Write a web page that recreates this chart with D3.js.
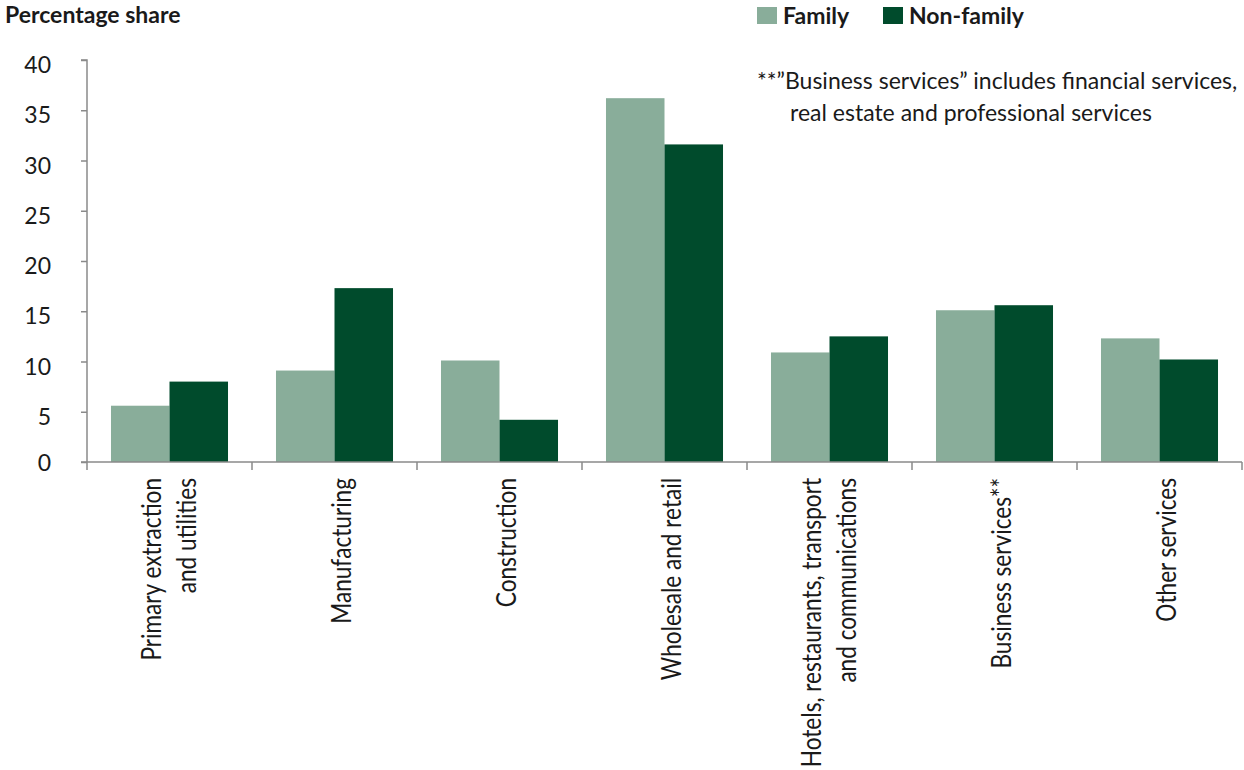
<!DOCTYPE html>
<html>
<head>
<meta charset="utf-8">
<script src="https://cdn.jsdelivr.net/npm/d3@7"></script>
<style>
  html, body { margin: 0; padding: 0; background: #ffffff; }
  svg { display: block; font-family: Lato, "Open Sans", sans-serif; }
</style>
</head>
<body>
<svg id="chart" width="1244" height="770"></svg>
<script>
// Sector labels (each entry is the list of lines drawn under the axis)
const categories = [
  ["Primary extraction", "and utilities"],
  ["Manufacturing"],
  ["Construction"],
  ["Wholesale and retail"],
  ["Hotels, restaurants, transport", "and communications"],
  ["Business services**"],
  ["Other services"]
];
const seriesNames = ["Family", "Non-family"];
const familyShare = [5.6, 9.1, 10.1, 36.2, 10.9, 15.1, 12.3];
const nonFamilyShare = [8.0, 17.3, 4.2, 31.6, 12.5, 15.6, 10.2];
const yTicks = [0, 5, 10, 15, 20, 25, 30, 35, 40];
const yAxisTitle = "Percentage share";
const footnoteLines = [
  "**\u201DBusiness services\u201D includes financial services,",
  "real estate and professional services"
];

const colors = { "Family": "#89ad9a", "Non-family": "#004b2c" };
const axisColor = "#8a8a8a";
const textColor = "#1a1a1a";
const fontStack = "Lato, 'Open Sans', sans-serif";

const svg = d3.select("#chart");
const plot = { left: 87, right: 1242, top: 60, bottom: 462 };

const catKeys = categories.map(c => c.join(" "));
const rows = catKeys.map((k, i) => ({ key: k, lines: categories[i], values: [familyShare[i], nonFamilyShare[i]] }));

const x0 = d3.scaleBand().domain(catKeys).range([plot.left, plot.right]).paddingInner(0).paddingOuter(0);
const x1 = d3.scaleBand().domain(seriesNames).range([0, x0.bandwidth()]).paddingInner(0).paddingOuter(0.41);
const y = d3.scaleLinear().domain([0, 40]).range([plot.bottom, plot.top]);

// Bars
const groups = svg.append("g").selectAll("g")
  .data(rows).join("g")
  .attr("transform", d => `translate(${x0(d.key)},0)`);

groups.selectAll("rect")
  .data(d => seriesNames.map((s, j) => ({ s, v: d.values[j] })))
  .join("rect")
  .attr("x", d => x1(d.s))
  .attr("width", x1.bandwidth())
  .attr("y", d => y(d.v))
  .attr("height", d => y(0) - y(d.v))
  .attr("fill", d => colors[d.s]);

// Y axis
const yAxis = svg.append("g")
  .attr("transform", `translate(${plot.left},0)`)
  .call(d3.axisLeft(y).tickValues(yTicks).tickSize(6).tickPadding(30).tickFormat(d3.format("d")));
yAxis.attr("font-family", fontStack);
yAxis.select(".domain").attr("stroke", axisColor).attr("stroke-width", 1.5).attr("d", `M-6,${plot.top}H0V${plot.bottom}`);
yAxis.selectAll(".tick line").attr("stroke", axisColor).attr("stroke-width", 1.5);
yAxis.selectAll(".tick text")
  .attr("fill", textColor)
  .style("font-size", "23px")
  .attr("dy", d => d === 0 ? "0.35em" : "0.55em");

// X axis: baseline with ticks at the category boundaries
const boundaries = catKeys.map(k => x0(k)).concat([plot.right]);
const xAxis = svg.append("g");
xAxis.append("line")
  .attr("x1", plot.left - 6).attr("x2", plot.right)
  .attr("y1", y(0)).attr("y2", y(0))
  .attr("stroke", axisColor).attr("stroke-width", 1.5);
xAxis.selectAll("line.bt").data(boundaries).join("line")
  .attr("class", "bt")
  .attr("x1", d => d).attr("x2", d => d)
  .attr("y1", y(0)).attr("y2", y(0) + 8)
  .attr("stroke", axisColor).attr("stroke-width", 1.5);

// Rotated category labels, right-aligned against the axis
const lineGap = 35;
const labels = xAxis.selectAll("text.cat").data(rows).join("text")
  .attr("class", "cat")
  .attr("text-anchor", "end")
  .attr("fill", textColor)
  .style("font-size", "26px")
  .attr("transform", d => `translate(${x0(d.key) + x0.bandwidth() / 2},478) rotate(-90) scale(0.87,1)`);
labels.each(function (d) {
  const n = d.lines.length;
  const first = 16 - (n - 1) * 0.7 * lineGap;
  d3.select(this).selectAll("tspan").data(d.lines).join("tspan")
    .attr("x", 0)
    .attr("y", (t, i) => first + i * lineGap)
    .text(t => t);
});

// Axis title
svg.append("text")
  .attr("x", 5).attr("y", 23)
  .attr("fill", textColor)
  .style("font-size", "23px").style("font-weight", "bold")
  .text(yAxisTitle);

// Legend
const legendX = [757, 883];
const legend = svg.append("g");
seriesNames.forEach((s, i) => {
  legend.append("rect")
    .attr("x", legendX[i]).attr("y", 7).attr("width", 20).attr("height", 17)
    .attr("fill", colors[s]);
  legend.append("text")
    .attr("x", legendX[i] + 26).attr("y", 24)
    .attr("fill", textColor)
    .style("font-size", "23px").style("font-weight", "bold")
    .text(s);
});

// Footnote
svg.append("g").selectAll("text").data(footnoteLines).join("text")
  .attr("x", (d, i) => i === 0 ? 757 : 790)
  .attr("y", (d, i) => 89 + i * 32)
  .attr("fill", textColor)
  .style("font-size", "23px")
  .text(d => d);
</script>
</body>
</html>
